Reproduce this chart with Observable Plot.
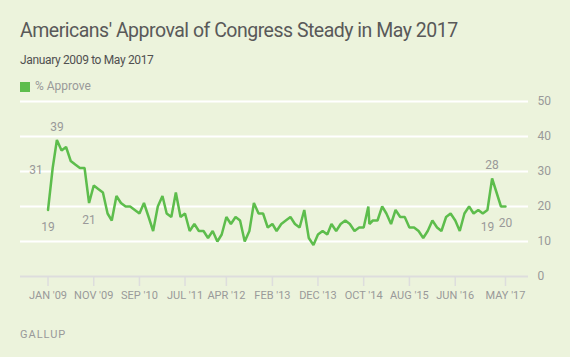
<!DOCTYPE html>
<html>
<head>
<meta charset="utf-8">
<script src="https://cdn.jsdelivr.net/npm/d3@7"></script>
<script src="https://cdn.jsdelivr.net/npm/@observablehq/plot@0.6"></script>
<style>
  html, body { margin: 0; padding: 0; background: #ecf3dc; }
  #wrap { position: relative; width: 570px; height: 357px; overflow: hidden; font-family: Roboto, "Noto Sans", sans-serif; }
  .t { position: absolute; left: 20px; white-space: nowrap; line-height: 1; }
  #title { top: 20.6px; font-size: 19.5px; letter-spacing: -0.5px; color: #595959; }
  #subtitle { top: 54px; font-size: 12px; letter-spacing: -0.35px; color: #505050; }
  #legend { top: 80px; font-size: 12px; color: #999; }
  #legend .sw { position: absolute; left: 0; top: 2px; width: 10px; height: 10px; background: #5dbd4c; }
  #legend .lt { position: absolute; left: 15px; top: 0; }
  #source { top: 329px; font-size: 11px; color: #999; letter-spacing: 1px; }
  #chart { position: absolute; left: 0; top: 95px; }
</style>
</head>
<body>
<div id="wrap">
  <div class="t" id="title">Americans' Approval of Congress Steady in May 2017</div>
  <div class="t" id="subtitle">January 2009 to May 2017</div>
  <div class="t" id="legend"><span class="sw"></span><span class="lt">% Approve</span></div>
  <div id="chart"></div>
  <div class="t" id="source">GALLUP</div>
</div>
<script>
// Poll dates (monthly; two polls in November 2014)
const pollDates = [
  "2009-01","2009-02","2009-03","2009-04","2009-05","2009-06","2009-07","2009-08","2009-09","2009-10","2009-11","2009-12",
  "2010-01","2010-02","2010-03","2010-04","2010-05","2010-06","2010-07","2010-08","2010-09","2010-10","2010-11","2010-12",
  "2011-01","2011-02","2011-03","2011-04","2011-05","2011-06","2011-07","2011-08","2011-09","2011-10","2011-11","2011-12",
  "2012-01","2012-02","2012-03","2012-04","2012-05","2012-06","2012-07","2012-08","2012-09","2012-10","2012-11","2012-12",
  "2013-01","2013-02","2013-03","2013-04","2013-05","2013-06","2013-07","2013-08","2013-09","2013-10","2013-11","2013-12",
  "2014-01","2014-02","2014-03","2014-04","2014-05","2014-06","2014-07","2014-08","2014-09","2014-10","2014-11","2014-11-08","2014-12",
  "2015-01","2015-02","2015-03","2015-04","2015-05","2015-06","2015-07","2015-08","2015-09","2015-10","2015-11","2015-12",
  "2016-01","2016-02","2016-03","2016-04","2016-05","2016-06","2016-07","2016-08","2016-09","2016-10","2016-11","2016-12",
  "2017-01","2017-02","2017-04","2017-05"
];
// % Approve
const approve = [
  19,31,39,36,37,33,32,31,31,21,26,25,
  24,18,16,23,21,20,20,19,18,21,17,13,
  20,23,18,17,24,17,18,13,15,13,13,11,
  13,10,12,17,15,17,16,10,13,21,18,18,
  14,15,13,15,16,17,15,14,19,11,9,12,
  13,12,15,13,15,16,15,13,14,14,20,15,16,
  16,20,18,15,19,17,17,14,14,13,11,13,
  16,14,13,17,18,16,13,18,20,18,19,18,
  19,28,20,20
];
// Labelled points
const labelsAbove = ["2009-03", "2017-02"];
const labelsBelow = ["2009-01", "2009-10", "2017-01", "2017-05"];
const labelsLeft = ["2009-02"];
// Axis ticks
const tickMonths = ["2009-01","2009-11","2010-09","2011-07","2012-04","2013-02","2013-12","2014-10","2015-08","2016-06","2017-05"];
const tickLabels = ["JAN '09","NOV '09","SEP '10","JUL '11","APR '12","FEB '13","DEC '13","OCT '14","AUG '15","JUN '16","MAY '17"];
const yTicks = [0, 10, 20, 30, 40, 50];

const toDate = s => new Date((s.length === 7 ? s + "-01" : s) + "T00:00:00Z");
const data = pollDates.map((d, i) => ({key: d, date: toDate(d), value: approve[i]}));
const tickDates = tickMonths.map(toDate);
const tickMap = new Map(tickDates.map((d, i) => [+d, tickLabels[i]]));
const green = "#5dbd4c";

const chart = Plot.plot({
  width: 570,
  height: 215,
  marginTop: 6,
  marginBottom: 34,
  marginLeft: 20,
  marginRight: 42,
  style: {background: "transparent", fontFamily: "Roboto, 'Noto Sans', sans-serif", fontSize: "11px", overflow: "visible"},
  x: {type: "utc", domain: [toDate("2008-07-02"), toDate("2017-10-01")]},
  y: {domain: [0, 50]},
  marks: [
    Plot.ruleY(yTicks.filter(d => d > 0), {stroke: "#ffffff", strokeWidth: 2}),
    Plot.ruleY([0], {stroke: "#dddddd", strokeWidth: 2}),
    Plot.axisY({ticks: yTicks, anchor: "right", tickSize: 0, tickPadding: 9, textAnchor: "start", fill: "#999", fontSize: 12, label: null}),
    Plot.axisX({ticks: tickDates, anchor: "bottom", tickSize: 10, tickPadding: 5, stroke: "#dddddd", strokeWidth: 1.5, strokeOpacity: 1, fill: "#999", fontSize: 11, label: null, tickFormat: d => tickMap.get(+d)}),
    Plot.line(data, {x: "date", y: "value", stroke: green, strokeWidth: 2.5, strokeLinejoin: "miter"}),
    Plot.text(data.filter(d => labelsAbove.includes(d.key)), {x: "date", y: "value", text: d => String(d.value), dy: -13, fill: "#999", fontSize: 12}),
    Plot.text(data.filter(d => labelsBelow.includes(d.key)), {x: "date", y: "value", text: d => String(d.value), dy: 17, fill: "#999", fontSize: 12}),
    Plot.text(data.filter(d => labelsLeft.includes(d.key)), {x: "date", y: "value", text: d => String(d.value), dx: -10, dy: 2, textAnchor: "end", fill: "#999", fontSize: 12})
  ]
});
document.getElementById("chart").append(chart);
</script>
</body>
</html>
